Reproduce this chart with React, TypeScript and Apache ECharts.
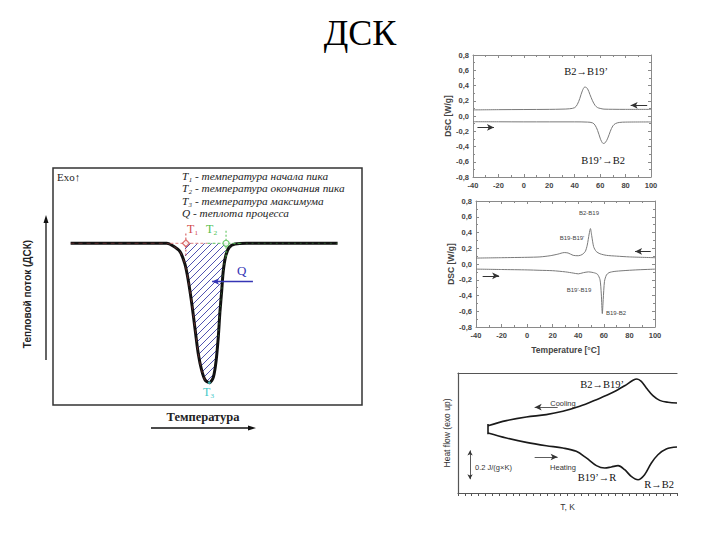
import React, { useEffect, useRef } from "react";
import * as echarts from "echarts";

// ---------- Left schematic DSC curve (arbitrary units) ----------
const schemX = [5.7, 20, 36.8, 38.9, 41.1, 42.7, 43.8, 44.9, 46.0, 47.0, 48.1, 49.2, 50.6, 51.9, 52.8, 53.5, 54.0, 54.6, 55.1, 55.9, 57.0, 58.9, 62.7, 80, 92.1];
const schemY = [0, 0, 0, -0.02, -0.06, -0.15, -0.27, -0.43, -0.62, -0.79, -0.91, -0.98, -1.0, -0.96, -0.84, -0.67, -0.5, -0.34, -0.2, -0.09, -0.03, -0.005, 0, 0, 0];
const T1X = 43.0;
const T2X = 56.0;
const legendLines = [
  "T\u2081 - температура начала пика",
  "T\u2082 - температура окончания пика",
  "T\u2083 - температура максимума",
  "Q - теплота процесса",
];

// ---------- Chart 1 (top right) ----------
const c1CoolX = [-40, -20, 0, 20, 30, 36, 40, 42, 44, 46, 48, 50, 52, 54, 56, 58, 60, 63, 70, 80, 100];
const c1CoolY = [0.08, 0.083, 0.085, 0.087, 0.09, 0.095, 0.11, 0.15, 0.23, 0.33, 0.38, 0.36, 0.28, 0.2, 0.14, 0.11, 0.1, 0.09, 0.088, 0.087, 0.087];
const c1HeatX = [-40, -20, 0, 20, 40, 50, 54, 56, 58, 60, 61, 62.5, 64, 66, 68, 70, 72, 75, 80, 100];
const c1HeatY = [-0.075, -0.076, -0.077, -0.077, -0.077, -0.08, -0.09, -0.12, -0.19, -0.29, -0.33, -0.36, -0.35, -0.29, -0.2, -0.13, -0.1, -0.085, -0.08, -0.078];

// ---------- Chart 2 (middle right) ----------
const c2CoolX = [-40, -20, 0, 10, 18, 24, 29, 32, 36, 40, 43, 45.5, 47, 48.5, 49.5, 50.5, 52, 54, 57, 62, 70, 80, 100];
const c2CoolY = [0.075, 0.08, 0.085, 0.09, 0.105, 0.125, 0.145, 0.14, 0.11, 0.105, 0.12, 0.16, 0.24, 0.38, 0.45, 0.36, 0.22, 0.16, 0.13, 0.11, 0.1, 0.09, 0.08];
const c2HeatX = [-40, -20, 0, 10, 20, 30, 36, 40, 44, 48, 52, 55, 57, 58, 58.8, 59.5, 60.5, 62, 64, 68, 75, 85, 100];
const c2HeatY = [-0.065, -0.07, -0.075, -0.08, -0.085, -0.1, -0.115, -0.125, -0.11, -0.1, -0.11, -0.13, -0.2, -0.38, -0.63, -0.45, -0.22, -0.14, -0.11, -0.095, -0.085, -0.075, -0.065];

// ---------- Chart 3 (bottom right, arbitrary units) ----------
const c3CoolX = [13.7, 22.1, 31.2, 40.3, 47.9, 55.6, 63.2, 70.8, 76.1, 79.9, 81.7, 83.7, 86.0, 89.0, 92.1, 95.9, 100];
const c3CoolY = [56.1, 60.3, 63.3, 65.3, 68.1, 72.2, 77.8, 83.9, 89.4, 93.9, 95.0, 93.0, 87.5, 81.1, 77.2, 75.6, 75.0];
const c3HeatX = [13.7, 22.1, 31.2, 40.3, 47.9, 54.0, 58.6, 63.2, 67.0, 70.0, 73.1, 76.1, 79.1, 82.2, 85.2, 88.3, 91.3, 95.1, 100];
const c3HeatY = [50.0, 45.8, 42.2, 39.4, 37.5, 34.7, 29.2, 22.8, 20.8, 21.7, 22.8, 19.4, 13.9, 11.1, 15.3, 25.0, 31.9, 36.7, 38.3];

const yTicks = ["-0,8", "-0,6", "-0,4", "-0,2", "0,0", "0,2", "0,4", "0,6", "0,8"];

const zip = (xs: number[], ys: number[]) => xs.map((x, i) => [x, ys[i]]);

const SERIF = "Liberation Serif";
const SANS = "Liberation Sans";

const hatchSvg =
  "data:image/svg+xml;utf8," +
  encodeURIComponent(
    "<svg xmlns='http://www.w3.org/2000/svg' width='7' height='7'><path d='M0 7 L7 0 M-1 1 L1 -1 M6 8 L8 6' stroke='#3d41a8' stroke-width='0.9'/></svg>"
  );

export default function App() {
  const ref = useRef<HTMLDivElement>(null);

  useEffect(() => {
    if (!ref.current) return;
    const chart = echarts.init(ref.current, undefined, { renderer: "svg" });

    const grayAxis = {
      axisLine: { show: true, onZero: false, lineStyle: { color: "#8a8a8a", width: 1 } },
      axisTick: { show: true, inside: true, length: 3, lineStyle: { color: "#8a8a8a" } },
      minorTick: { show: true, splitNumber: 2, length: 2, lineStyle: { color: "#8a8a8a" } },
      splitLine: { show: false },
    };
    const tickLabel = { fontFamily: SANS, fontWeight: "bold" as const, fontSize: 7.5, color: "#444" };
    const yFmt = (v: number) => yTicks[Math.round((v + 0.8) / 0.2)] ?? "";

    const rightX = (gridIndex: number, position: string, showLabel: boolean, name?: string) => ({
      type: "value",
      gridIndex,
      position,
      min: -40,
      max: 100,
      interval: 20,
      ...grayAxis,
      axisLabel: { show: showLabel, margin: 4, ...tickLabel },
      name: name,
      nameLocation: "middle",
      nameGap: 18,
      nameTextStyle: { fontFamily: SANS, fontWeight: "bold", fontSize: 8.5, color: "#444" },
    });
    const rightY = (gridIndex: number, position: string, showLabel: boolean, name?: string) => ({
      type: "value",
      gridIndex,
      position,
      min: -0.8,
      max: 0.8,
      interval: 0.2,
      ...grayAxis,
      axisLabel: { show: showLabel, margin: 4, formatter: yFmt, ...tickLabel },
      name: name,
      nameLocation: "middle",
      nameGap: 19,
      nameRotate: 90,
      nameTextStyle: { fontFamily: SANS, fontWeight: "bold", fontSize: 8.5, color: "#444" },
    });

    const arrowLine = (coords: number[][][], color = "#333", width = 1) => ({
      silent: true,
      symbol: ["none", "arrow"],
      symbolSize: [5, 7],
      lineStyle: { color, width, type: "solid" },
      label: { show: false },
      data: coords.map(([a, b]) => [{ coord: a }, { coord: b }]),
    });

    const grayCurve = (xAxisIndex: number, yAxisIndex: number, xs: number[], ys: number[], extra: any = {}) => ({
      type: "line",
      xAxisIndex,
      yAxisIndex,
      data: zip(xs, ys),
      smooth: 0.35,
      symbol: "none",
      lineStyle: { color: "#7a7a7a", width: 1 },
      ...extra,
    });

    const schemData = zip(schemX, schemY);
    const hatchData = schemData.filter(([x]) => x >= 42.7 && x <= 55.9);

    const option: any = {
      animation: false,
      backgroundColor: "#ffffff",
      grid: [
        { left: 53, top: 168, width: 309, height: 237, show: true, borderColor: "#333", borderWidth: 1.5, backgroundColor: "transparent" },
        { left: 473, top: 55, width: 178, height: 122, show: false },
        { left: 476, top: 201, width: 179, height: 126, show: false },
        { left: 458, top: 373, width: 219, height: 120, show: false },
      ],
      xAxis: [
        { type: "value", gridIndex: 0, min: 0, max: 100, show: false },
        rightX(1, "bottom", true),
        rightX(1, "top", false),
        rightX(2, "bottom", true, "Temperature [\u00b0C]"),
        rightX(2, "top", false),
        {
          type: "value",
          gridIndex: 3,
          position: "bottom",
          min: 0,
          max: 100,
          interval: 3.125,
          axisLine: { show: true, onZero: false, lineStyle: { color: "#555", width: 1.2 } },
          axisTick: { show: true, inside: false, length: 3, lineStyle: { color: "#555" } },
          axisLabel: { show: false },
          splitLine: { show: false },
          name: "T, K",
          nameLocation: "middle",
          nameGap: 9,
          nameTextStyle: { fontFamily: SANS, fontSize: 8.5, color: "#333" },
        },
        {
          type: "value",
          gridIndex: 3,
          position: "top",
          min: 0,
          max: 100,
          axisLine: { show: true, onZero: false, lineStyle: { color: "#555", width: 1.2 } },
          axisTick: { show: false },
          axisLabel: { show: false },
          splitLine: { show: false },
        },
      ],
      yAxis: [
        { type: "value", gridIndex: 0, min: -1.16, max: 0.54, show: false },
        rightY(1, "left", true, "DSC [W/g]"),
        rightY(1, "right", false),
        rightY(2, "left", true, "DSC [W/g]"),
        rightY(2, "right", false),
        {
          type: "value",
          gridIndex: 3,
          position: "left",
          min: 0,
          max: 100,
          axisLine: { show: true, onZero: false, lineStyle: { color: "#555", width: 1.2 } },
          axisTick: { show: false },
          axisLabel: { show: false },
          splitLine: { show: false },
          name: "Heat flow (exo up)",
          nameLocation: "middle",
          nameGap: 7,
          nameRotate: 90,
          nameTextStyle: { fontFamily: SANS, fontSize: 8.5, color: "#333" },
        },
      ],
      series: [
        // hatched area Q
        {
          type: "line",
          xAxisIndex: 0,
          yAxisIndex: 0,
          data: hatchData,
          symbol: "none",
          smooth: 0.3,
          lineStyle: { width: 0 },
          areaStyle: {
            color: { image: hatchSvg, repeat: "repeat", imageWidth: 7, imageHeight: 7 },
            opacity: 1,
          },
          z: 1,
        },
        // main schematic curve
        {
          type: "line",
          xAxisIndex: 0,
          yAxisIndex: 0,
          data: schemData,
          symbol: "none",
          smooth: 0.3,
          lineStyle: { color: "#111", width: 3 },
          z: 2,
        },
        // red overlay (left part)
        {
          type: "line",
          xAxisIndex: 0,
          yAxisIndex: 0,
          data: schemData.filter(([x]) => x <= 50.6),
          symbol: "none",
          smooth: 0.3,
          lineStyle: { color: "#c85050", width: 0.8, type: [4, 4], opacity: 0.5 },
          z: 3,
        },
        // green overlay (right part)
        {
          type: "line",
          xAxisIndex: 0,
          yAxisIndex: 0,
          data: schemData.filter(([x]) => x >= 53.5),
          symbol: "none",
          smooth: 0.3,
          lineStyle: { color: "#4fb04f", width: 0.8, type: [2, 4], opacity: 0.5 },
          z: 3,
        },
        // baseline dashes between T1 and T2
        {
          type: "line",
          xAxisIndex: 0,
          yAxisIndex: 0,
          data: [[38, 0], [50, 0]],
          symbol: "none",
          lineStyle: { color: "#e08080", width: 1, type: [3, 2] },
          z: 3,
        },
        {
          type: "line",
          xAxisIndex: 0,
          yAxisIndex: 0,
          data: [[50, 0], [61, 0]],
          symbol: "none",
          lineStyle: { color: "#5cc05c", width: 1, type: [3, 2] },
          z: 3,
        },
        // T1 / T2 tick marks
        {
          type: "line",
          xAxisIndex: 0,
          yAxisIndex: 0,
          data: [[T1X, 0.07], [T1X, -0.1]],
          symbol: "none",
          lineStyle: { color: "#d24a4a", width: 1, type: [2, 2] },
          z: 3,
        },
        {
          type: "line",
          xAxisIndex: 0,
          yAxisIndex: 0,
          data: [[T2X, 0.09], [T2X, -0.1]],
          symbol: "none",
          lineStyle: { color: "#4fc04f", width: 1, type: [2, 2] },
          z: 3,
        },
        {
          type: "scatter",
          xAxisIndex: 0,
          yAxisIndex: 0,
          data: [[T1X, 0]],
          symbol: "diamond",
          symbolSize: 7,
          itemStyle: { color: "#fff", borderColor: "#d24a4a", borderWidth: 1.2 },
          z: 4,
        },
        {
          type: "scatter",
          xAxisIndex: 0,
          yAxisIndex: 0,
          data: [[T2X, 0]],
          symbol: "circle",
          symbolSize: 6,
          itemStyle: { color: "#fff", borderColor: "#4fc04f", borderWidth: 1.2 },
          z: 4,
        },
        {
          type: "scatter",
          xAxisIndex: 0,
          yAxisIndex: 0,
          data: [[50.6, -1.0]],
          symbol: "circle",
          symbolSize: 3,
          itemStyle: { color: "#40c8c8" },
          z: 4,
          markLine: arrowLine([[[64.7, -0.274], [51.5, -0.274]]], "#3535b5", 1.3),
        },
        // chart 1
        grayCurve(1, 1, c1CoolX, c1CoolY, {
          markLine: arrowLine([
            [[97, 0.14], [84, 0.14]],
            [[-36.5, -0.15], [-23.5, -0.15]],
          ]),
        }),
        grayCurve(1, 1, c1HeatX, c1HeatY),
        // chart 2
        grayCurve(3, 3, c2CoolX, c2CoolY, {
          smooth: 0.25,
          markLine: arrowLine([
            [[96.7, 0.16], [84.4, 0.16]],
            [[-34.8, -0.15], [-21.9, -0.15]],
          ]),
        }),
        grayCurve(3, 3, c2HeatX, c2HeatY, { smooth: 0.25 }),
        // chart 3
        {
          type: "line",
          xAxisIndex: 5,
          yAxisIndex: 5,
          data: zip(c3CoolX, c3CoolY),
          smooth: 0.35,
          symbol: "none",
          lineStyle: { color: "#1a1a1a", width: 1.6 },
          markLine: arrowLine(
            [
              [[45.5, 71.5], [35, 71.5]],
              [[35, 30], [45.5, 30]],
            ],
            "#333",
            0.8
          ),
        },
        {
          type: "line",
          xAxisIndex: 5,
          yAxisIndex: 5,
          data: zip(c3HeatX, c3HeatY),
          smooth: 0.35,
          symbol: "none",
          lineStyle: { color: "#1a1a1a", width: 1.6 },
        },
        {
          type: "line",
          xAxisIndex: 5,
          yAxisIndex: 5,
          data: [[13.7, 57.5], [13.7, 49.0]],
          symbol: "none",
          lineStyle: { color: "#1a1a1a", width: 1.6 },
          markLine: {
            silent: true,
            symbol: ["arrow", "arrow"],
            symbolSize: [4, 5],
            lineStyle: { color: "#333", width: 0.8, type: "solid" },
            label: { show: false },
            data: [[{ coord: [5.5, 35.5] }, { coord: [5.5, 11.5] }]],
          },
        },
      ],
      graphic: [
        // title
        { type: "text", left: "center", top: 15, style: { text: "ДСК", font: `36px '${SERIF}'`, fill: "#000" } },
        // left schematic texts
        { type: "text", x: 57, y: 171, style: { text: "Exo\u2191", font: `11px '${SERIF}'`, fill: "#222" } },
        ...legendLines.map((t, i) => ({
          type: "text",
          x: 182,
          y: 170 + i * 12.5,
          style: { text: t, font: `italic 11.3px '${SERIF}'`, fill: "#222" },
        })),
        { type: "text", x: 187, y: 223, style: { text: "T\u2081", font: `12px '${SERIF}'`, fill: "#d24a4a" } },
        { type: "text", x: 206, y: 223, style: { text: "T\u2082", font: `12px '${SERIF}'`, fill: "#4fc04f" } },
        { type: "text", x: 203, y: 386, style: { text: "T\u2083", font: `12px '${SERIF}'`, fill: "#40c8c8" } },
        { type: "text", x: 237, y: 264, style: { text: "Q", font: `13px '${SERIF}'`, fill: "#3535b5" } },
        // y arrow + label
        { type: "line", shape: { x1: 46, y1: 360, x2: 46, y2: 221 }, style: { stroke: "#111", lineWidth: 1.3 } },
        { type: "polygon", shape: { points: [[46, 215], [43.5, 223], [48.5, 223]] }, style: { fill: "#111" } },
        {
          type: "text",
          x: 27,
          y: 294,
          rotation: Math.PI / 2,
          style: { text: "Тепловой поток (ДСК)", font: `bold 10px '${SANS}'`, fill: "#222", align: "center", verticalAlign: "middle" },
        },
        // x label + arrow
        {
          type: "text",
          x: 203,
          y: 417,
          style: { text: "Температура", font: `bold 12.5px '${SERIF}'`, fill: "#222", align: "center", verticalAlign: "middle" },
        },
        { type: "line", shape: { x1: 151, y1: 428, x2: 250, y2: 428 }, style: { stroke: "#111", lineWidth: 1.3 } },
        { type: "polygon", shape: { points: [[256, 428], [248, 425.5], [248, 430.5]] }, style: { fill: "#111" } },
        // chart 1 labels
        { type: "text", x: 586, y: 71, style: { text: "B2\u2192B19\u2019", font: `10.5px '${SERIF}'`, fill: "#111", align: "center", verticalAlign: "middle" } },
        { type: "text", x: 603, y: 160, style: { text: "B19\u2019\u2192B2", font: `10.5px '${SERIF}'`, fill: "#111", align: "center", verticalAlign: "middle" } },
        // chart 2 labels
        { type: "text", x: 589, y: 213, style: { text: "B2-B19", font: `6px '${SANS}'`, fill: "#444", align: "center", verticalAlign: "middle" } },
        { type: "text", x: 572, y: 238, style: { text: "B19-B19'", font: `6px '${SANS}'`, fill: "#444", align: "center", verticalAlign: "middle" } },
        { type: "text", x: 579, y: 290, style: { text: "B19'-B19", font: `6px '${SANS}'`, fill: "#444", align: "center", verticalAlign: "middle" } },
        { type: "text", x: 616, y: 313, style: { text: "B19-B2", font: `6px '${SANS}'`, fill: "#444", align: "center", verticalAlign: "middle" } },
        // chart 3 labels
        { type: "text", x: 563, y: 403, style: { text: "Cooling", font: `7.5px '${SANS}'`, fill: "#333", align: "center", verticalAlign: "middle" } },
        { type: "text", x: 563, y: 467, style: { text: "Heating", font: `7.5px '${SANS}'`, fill: "#333", align: "center", verticalAlign: "middle" } },
        { type: "text", x: 475, y: 467, style: { text: "0.2 J/(g\u00d7K)", font: `7.5px '${SANS}'`, fill: "#333", verticalAlign: "middle" } },
        { type: "text", x: 602, y: 384, style: { text: "B2\u2192B19\u2019", font: `10.5px '${SERIF}'`, fill: "#111", align: "center", verticalAlign: "middle" } },
        { type: "text", x: 597, y: 477, style: { text: "B19\u2019\u2192R", font: `10.5px '${SERIF}'`, fill: "#111", align: "center", verticalAlign: "middle" } },
        { type: "text", x: 659, y: 484, style: { text: "R\u2192B2", font: `10.5px '${SERIF}'`, fill: "#111", align: "center", verticalAlign: "middle" } },
      ],
    };

    chart.setOption(option);
    return () => chart.dispose();
  }, []);

  return <div ref={ref} style={{ position: "fixed", left: 0, top: 0, width: 720, height: 540, background: "#fff" }} />;
}
